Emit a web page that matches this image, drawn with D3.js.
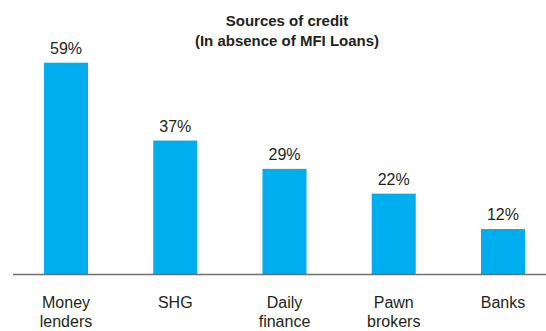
<!DOCTYPE html>
<html>
<head>
<meta charset="utf-8">
<script src="https://cdn.jsdelivr.net/npm/d3@7"></script>
<style>
  html, body { margin: 0; padding: 0; background: #fff; }
  svg { display: block; }
  text { font-family: "Liberation Sans", Arial, sans-serif; fill: #231f20; }
</style>
</head>
<body>
<svg id="chart" width="546" height="331"></svg>
<script>
// Sources of credit when MFI loans are not available (share of respondents, %)
const categories = [["Money", "lenders"], ["SHG"], ["Daily", "finance"], ["Pawn", "brokers"], ["Banks"]];
const values = [59, 37, 29, 22, 12];
const titleLines = ["Sources of credit", "(In absence of MFI Loans)"];

const svg = d3.select("#chart");
const W = 546, H = 331;
const baseY = 274.5;

const x = d3.scaleBand()
  .domain(d3.range(values.length))
  .range([11.4, 557.6])
  .paddingInner(0.597)
  .paddingOuter(0.2985);

const y = d3.scaleLinear()
  .domain([0, 59])
  .range([271.5, 62.7]);

// Title
const title = svg.append("text")
  .attr("x", 287)
  .attr("text-anchor", "middle")
  .style("font-weight", "bold")
  .style("font-size", "15px");
titleLines.forEach((t, i) => {
  title.append("tspan").attr("x", 287).attr("y", 25.5 + i * 20.5).text(t);
});

// Bars (drawn down to the baseline rule)
svg.selectAll("rect.bar")
  .data(values)
  .join("rect")
  .attr("class", "bar")
  .attr("x", (d, i) => x(i))
  .attr("width", x.bandwidth())
  .attr("y", d => y(d))
  .attr("height", d => baseY - y(d))
  .attr("fill", "#00aeef");

// Value labels
svg.selectAll("text.val")
  .data(values)
  .join("text")
  .attr("class", "val")
  .attr("x", (d, i) => x(i) + x.bandwidth() / 2)
  .attr("y", d => y(d) - 9)
  .attr("text-anchor", "middle")
  .style("font-size", "16px")
  .text(d => d + "%");

// Baseline
svg.append("line")
  .attr("x1", 13).attr("x2", W)
  .attr("y1", baseY).attr("y2", baseY)
  .attr("stroke", "#6d6e71")
  .attr("stroke-width", 1.5);

// Category labels
const cat = svg.selectAll("text.cat")
  .data(categories)
  .join("text")
  .attr("class", "cat")
  .attr("text-anchor", "middle")
  .style("font-size", "16px");
cat.each(function (lines, i) {
  const cx = x(i) + x.bandwidth() / 2;
  d3.select(this).selectAll("tspan")
    .data(lines)
    .join("tspan")
    .attr("x", cx)
    .attr("y", (d, j) => 307.5 + j * 19.5)
    .text(d => d);
});
</script>
</body>
</html>
